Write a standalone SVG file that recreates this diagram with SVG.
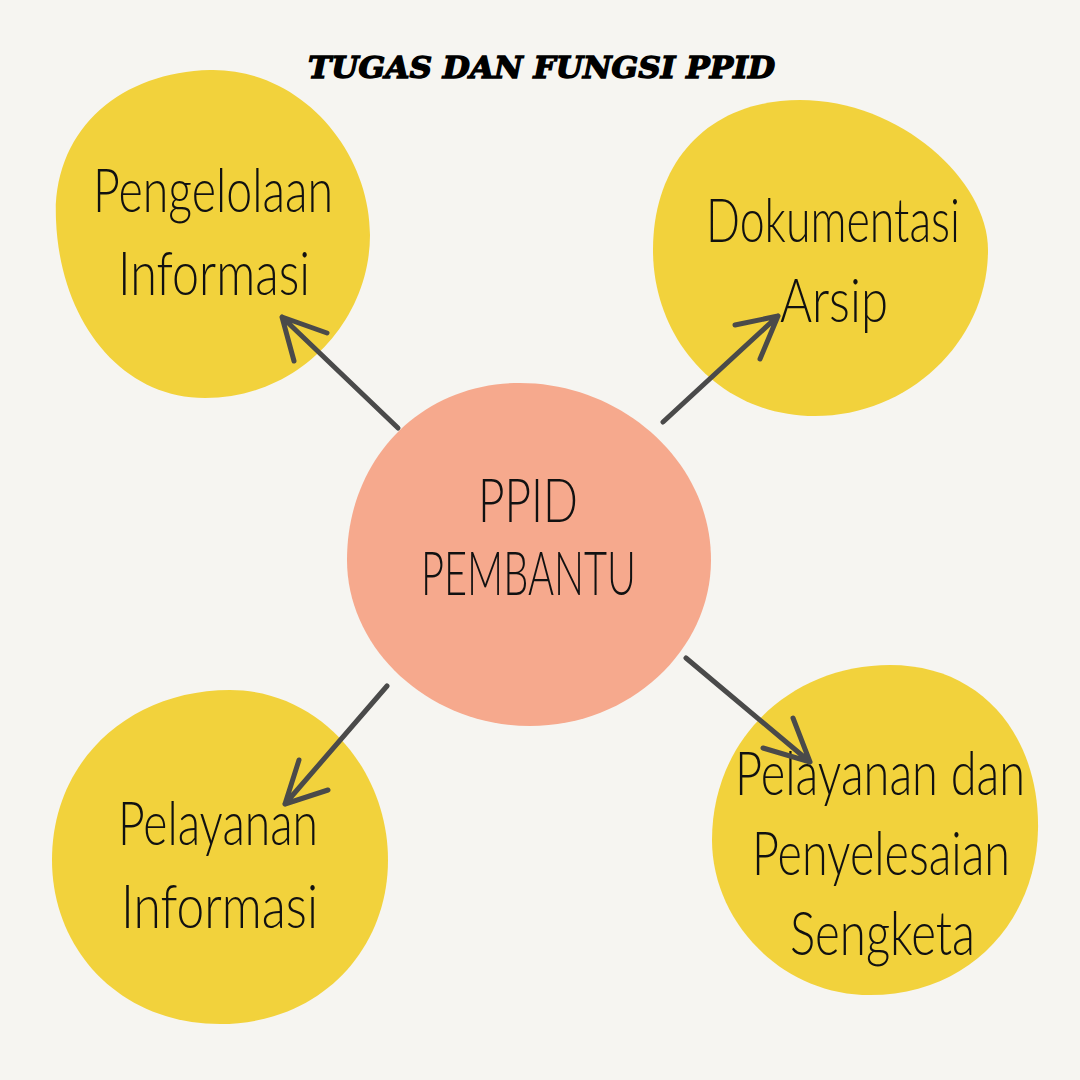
<svg xmlns="http://www.w3.org/2000/svg" width="1080" height="1080" viewBox="0 0 1080 1080">
<style>
.bg{fill:#F6F5F1}
.y{fill:#F2D23C}
.c{fill:#F6A98D}
.t{font-family:Lato,"Open Sans",sans-serif;font-weight:300;font-size:62px;fill:#111;text-anchor:start}
.title{font-family:"DejaVu Serif","Liberation Serif",serif;font-weight:bold;font-style:italic;font-size:30px;fill:#000;stroke:#000;stroke-width:1.4}
.a{stroke:#4A4A4A;stroke-width:5;stroke-linecap:round;fill:none;stroke-linejoin:round}
</style>
<rect class="bg" width="1080" height="1080"/>
<text class="title" x="308" y="78" textLength="467" lengthAdjust="spacingAndGlyphs">TUGAS DAN FUNGSI PPID</text>
<g id="node-pengelolaan">
<path class="y" d="M210 70 C300 68 370 150 370 235 C370 320 300 398 205 398 C120 398 60 320 56 220 C52 130 120 72 210 70 Z"/>
<text class="t" x="93" y="212" textLength="240" lengthAdjust="spacingAndGlyphs">Pengelolaan</text>
<text class="t" x="118" y="295" textLength="192" lengthAdjust="spacingAndGlyphs">Informasi</text>
</g>
<g id="node-dokumentasi">
<path class="y" d="M800 100 C900 100 988 180 988 250 C988 340 910 416 815 416 C720 416 653 340 653 250 C653 160 710 100 800 100 Z"/>
<text class="t" x="706" y="242" textLength="254" lengthAdjust="spacingAndGlyphs">Dokumentasi</text>
<text class="t" x="780" y="322" textLength="108" lengthAdjust="spacingAndGlyphs">Arsip</text>
</g>
<g id="node-pelayanan-informasi">
<path class="y" d="M230 690 C320 690 388 770 388 860 C388 950 320 1024 220 1024 C120 1024 52 950 52 860 C52 760 130 690 230 690 Z"/>
<text class="t" x="118" y="845" textLength="200" lengthAdjust="spacingAndGlyphs">Pelayanan</text>
<text class="t" x="121" y="928" textLength="197" lengthAdjust="spacingAndGlyphs">Informasi</text>
</g>
<g id="node-sengketa">
<path class="y" d="M890 665 C985 665 1040 740 1038 830 C1036 920 970 995 870 995 C780 995 712 920 712 840 C712 740 790 665 890 665 Z"/>
<text class="t" x="735" y="795" textLength="290" lengthAdjust="spacingAndGlyphs">Pelayanan dan</text>
<text class="t" x="752" y="875" textLength="258" lengthAdjust="spacingAndGlyphs">Penyelesaian</text>
<text class="t" x="790" y="955" textLength="185" lengthAdjust="spacingAndGlyphs">Sengketa</text>
</g>
<g id="node-center">
<path class="c" d="M520 383 C620 383 711 460 711 560 C711 650 630 726 530 726 C430 726 347 650 347 560 C347 460 420 383 520 383 Z"/>
<text class="t" x="478" y="522" textLength="100" lengthAdjust="spacingAndGlyphs">PPID</text>
<text class="t" x="421" y="595" textLength="215" lengthAdjust="spacingAndGlyphs">PEMBANTU</text>
</g>
<g id="connectors">
<path class="a" d="M398 428 L282 317 M327 333 L282 317 L294 361"/>
<path class="a" d="M663 422 L778 316 M735 325 L778 316 L760 359"/>
<path class="a" d="M387 686 L285 804 M299 760 L285 804 L328 790"/>
<path class="a" d="M686 658 L810 762 M793 718 L810 762 L763 748"/>
</g>
</svg>
